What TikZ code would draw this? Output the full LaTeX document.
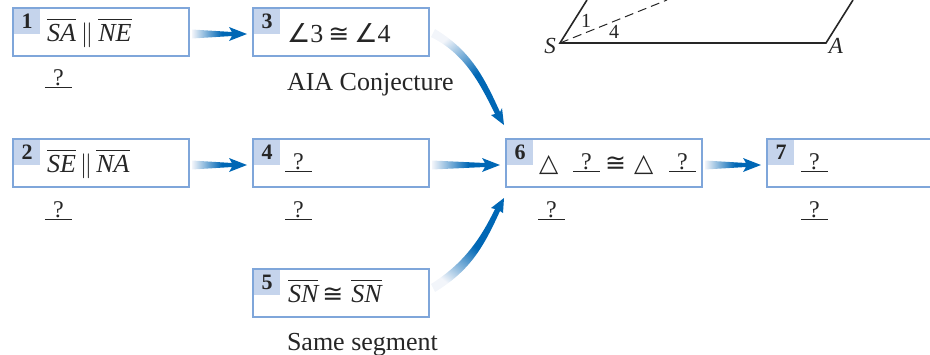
\documentclass[tikz,border=0pt]{standalone}
\usepackage{fontspec}
\setmainfont{Liberation Serif}
\newfontfamily\symf{DejaVu Sans}
\usetikzlibrary{calc}
\definecolor{boxline}{HTML}{7FA6DA}
\definecolor{tabfill}{HTML}{C5D4EC}
\definecolor{ink}{HTML}{262626}
\pgfdeclarehorizontalshading{flowfade}{100bp}{rgb(0bp)=(0.95,0.96,0.98); rgb(25bp)=(0.95,0.96,0.98); rgb(52bp)=(0,0.404,0.71); rgb(100bp)=(0,0.404,0.71)}
\newcommand{\seg}[1]{$\overline{\hbox{\rule{0pt}{20.5pt}\itshape #1}}$}
\newcommand{\blank}{\underline{\makebox[27pt]{\fontsize{24}{28}\selectfont ?}}}
\newcommand{\cng}{{\symf\fontsize{25}{30}\selectfont ≅}}
\newcommand{\ang}{{\symf\fontsize{26}{30}\selectfont ∠}}
\newcommand{\tri}{{\symf\fontsize{25}{30}\selectfont △}}
\newcommand{\tabnum}[1]{\raisebox{-1pt}{#1}}
\newcommand{\straightflow}[3]{%
  \coordinate (s) at ($(#1.east)+(#3,2)$);
  \coordinate (t) at ($(#2.west)+(-6,2)$);
  \shade[shading=flowfade]
    ($(s)+(0,-4.5)$) -- ($(t)+(-15,-2)$) -- ($(t)+(-18,-7)$) -- (t) -- ($(t)+(-18,7)$) -- ($(t)+(-15,2)$) -- ($(s)+(0,4.5)$) -- cycle;
}
\tikzset{
  x=1pt,y=-1pt,
  flowbox/.style={draw=boxline,line width=1.8pt,fill=white,minimum width=176pt,minimum height=48pt,inner sep=0pt,outer sep=0pt},
  tabbox/.style={fill=tabfill,minimum width=26pt,minimum height=25pt,inner sep=0pt,font=\fontsize{22}{24}\selectfont\bfseries,text=ink},
  txt/.style={anchor=base west,inner sep=0pt,outer sep=0pt,text=ink,font=\fontsize{26}{30}\selectfont},
  figlabel/.style={anchor=base,inner sep=0pt,text=ink,font=\fontsize{20}{24}\selectfont},
  figletter/.style={anchor=base,inner sep=0pt,text=ink,font=\fontsize{23}{26}\selectfont\itshape}
}
\begin{document}
\begin{tikzpicture}
\useasboundingbox (0,0) rectangle (930,354);
% boxes
\node[flowbox] (n1) at (101,32) {};
\node[flowbox] (n2) at (101,163) {};
\node[flowbox] (n3) at (341,32) {};
\node[flowbox] (n4) at (341,163) {};
\node[flowbox] (n5) at (341,293) {};
\node[flowbox,minimum width=196pt] (n6) at (604,163) {};
\node[flowbox,minimum width=196pt] (n7) at (865,163) {};
% tabs
\node[tabbox] (t1) at (27,21.5) {\tabnum{1}};
\node[tabbox] (t2) at (27,152.5) {\tabnum{2}};
\node[tabbox] (t3) at (267,21.5) {\tabnum{3}};
\node[tabbox] (t4) at (267,152.5) {\tabnum{4}};
\node[tabbox] (t5) at (267,282.5) {\tabnum{5}};
\node[tabbox] (t6) at (520,152.5) {\tabnum{6}};
\node[tabbox] (t7) at (781,152.5) {\tabnum{7}};
% box statements
\node[txt] (a1) at (47,41) {\seg{SA}\hspace{5pt}$\|$\hspace{5pt}\seg{NE}};
\node[txt] (a2) at (47,172) {\seg{SE}\hspace{4pt}$\|$\hspace{4pt}\seg{NA}};
\node[txt] (a3) at (287,42) {\ang 3\hspace{5pt}\cng\hspace{5pt}\ang 4};
\node[txt] (a4) at (285,169) {\blank};
\node[txt] (a5) at (288,302) {\seg{SN}\hspace{4pt}\cng\hspace{8pt}\seg{SN}};
\node[txt] (a6a) at (539,171) {\tri};
\node[txt] (a6b) at (573,169) {\blank};
\node[txt] (a6c) at (605,171) {\cng};
\node[txt] (a6d) at (634,171) {\tri};
\node[txt] (a6e) at (669,169) {\blank};
\node[txt] (a7) at (801,169) {\blank};
% reasons
\node[txt] (r1) at (45,85) {\blank};
\node[txt] (r2) at (45,217) {\blank};
\node[txt] (r3) at (287,90) {AIA Conjecture};
\node[txt] (r4) at (285,217) {\blank};
\node[txt] (r5) at (287,350) {Same segment};
\node[txt] (r6) at (538,217) {\blank};
\node[txt] (r7) at (801,217) {\blank};
% straight arrows
\straightflow{n1}{n3}{3}
\straightflow{n2}{n4}{3}
\straightflow{n4}{n6}{3}
\straightflow{n6}{n7}{3}
% curved arrows
\coordinate (s) at ($(n3.east)+(4,1)$);
\coordinate (t) at ($(n6.west)+(-2,-38)$);
\shade[shading=flowfade,shading angle=-52]
  ($(s)+(2,-4)$) .. controls ($(s)+(38,18)$) and ($(t)+(-20,-48)$) .. ($(t)+(-4,-13)$)
  -- ($(t)+(-2,-17)$) -- (t) -- ($(t)+(-13,-10)$) -- ($(t)+(-9,-11)$)
  .. controls ($(t)+(-26,-46)$) and ($(s)+(30,20)$) .. ($(s)+(-2,4)$) -- cycle;
\coordinate (s) at ($(n5.east)+(4,-5)$);
\coordinate (t) at ($(n6.west)+(-2,35)$);
\shade[shading=flowfade,shading angle=52]
  ($(s)+(-2,-4)$) .. controls ($(s)+(30,-24)$) and ($(t)+(-24,42)$) .. ($(t)+(-9,11)$)
  -- ($(t)+(-13,10)$) -- (t) -- ($(t)+(-1,15)$) -- ($(t)+(-4,13)$)
  .. controls ($(t)+(-20,48)$) and ($(s)+(38,-18)$) .. ($(s)+(2,4)$) -- cycle;
% figure
\coordinate (pS) at (560,43);
\coordinate (pA) at (826,43);
\coordinate (pN) at (587,0);
\coordinate (pE) at (853,0);
\coordinate (pD) at (667,0);
\draw[ink,line width=1.6pt] (pN) -- (pS) -- (pA) -- (pE);
\draw[ink,line width=1pt,dash pattern=on 9pt off 5pt] (pS) -- (pD);
\node[figlabel] (l1) at (586,27) {1};
\node[figlabel] (l4) at (614,38) {4};
\node[figletter] (lS) at (550,53) {S};
\node[figletter] (lA) at (836,53) {A};
\end{tikzpicture}
\end{document}
